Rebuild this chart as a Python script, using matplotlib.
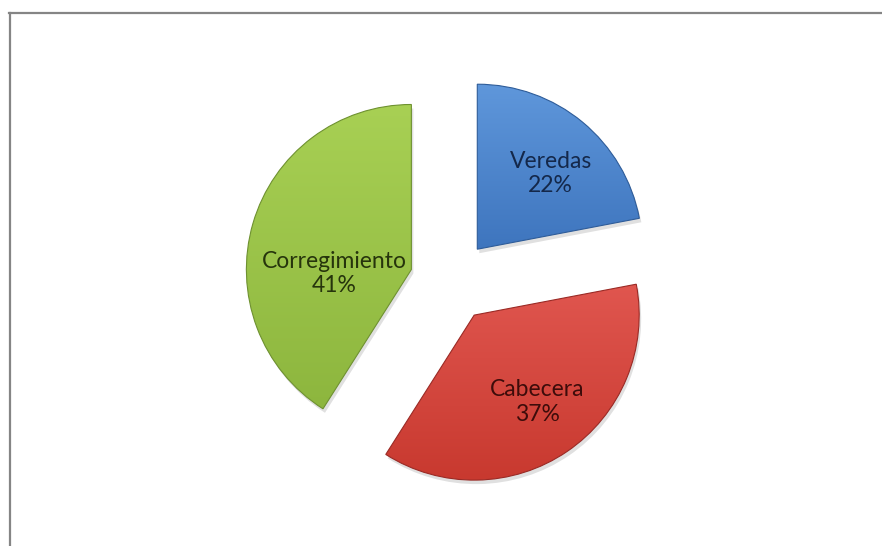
import numpy as np
import matplotlib.pyplot as plt
from matplotlib.colors import LinearSegmentedColormap
from matplotlib.lines import Line2D
from matplotlib.patches import Wedge

# ── Data ──────────────────────────────────────────────────────────────────────
labels = ["Veredas", "Cabecera", "Corregimiento"]
values = [22, 37, 41]

# slice styling (light top, base bottom, edge, text)
top_colors = ["#5F97DB", "#E0564F", "#A8D054"]
base_colors = ["#3E75BE", "#C8392F", "#8DB63E"]
edge_colors = ["#2E5C99", "#9A2A25", "#6E9130"]
text_colors = ["#14284A", "#3D0C0A", "#26340C"]
# label placement: fraction of radius and angle (deg) from each slice apex
label_dist = [0.64, 0.65, 0.47]
label_ang = [46, -54, 183]

W, H = 882, 546
fig = plt.figure(figsize=(W / 100, H / 100), dpi=100)
ax = fig.add_axes([0, 0, 1, 1])

center = (451, H - 281)
radius = 165
wedges, _ = ax.pie(values, startangle=90, counterclock=False,
                   explode=[0.25 * radius] * len(values), center=center,
                   radius=radius, colors=base_colors,
                   wedgeprops=dict(linewidth=0.8))

grad = np.linspace(1, 0, 256).reshape(-1, 1)
for w, lab, v, c0, c1, ec, tc, d, a in zip(wedges, labels, values, top_colors,
                                          base_colors, edge_colors, text_colors,
                                          label_dist, label_ang):
    # soft shadow
    sh = Wedge((w.center[0] + 2, w.center[1] - 4), w.r, w.theta1, w.theta2,
               color="#000000", alpha=0.12, lw=0, zorder=0.5)
    ax.add_patch(sh)

    bb = w.get_path().get_extents()
    cmap = LinearSegmentedColormap.from_list("g", [c1, c0])
    im = ax.imshow(grad, cmap=cmap, aspect="auto", origin="upper",
                   extent=(bb.x0, bb.x1, bb.y0, bb.y1), zorder=2,
                   interpolation="bilinear")
    im.set_clip_path(w)
    w.set_facecolor("none")
    w.set_edgecolor(ec)
    w.set_zorder(3)

    t = np.deg2rad(a)
    tx = w.center[0] + d * w.r * np.cos(t)
    ty = w.center[1] + d * w.r * np.sin(t)
    ax.text(tx, ty, f"{lab}\n{v}%", ha="center", va="center", fontsize=16.5,
            family="Lato", color=tc, linespacing=1.2, zorder=4)

ax.set_xlim(0, W)
ax.set_ylim(0, H)
ax.set_aspect("equal")
ax.axis("off")

# chart area border (top and left visible)
fig.add_artist(Line2D([9 / W, 1], [1 - 13 / H] * 2, color="#858585", lw=1.6))
fig.add_artist(Line2D([10 / W] * 2, [0, 1 - 13 / H], color="#858585", lw=1.6))

plt.savefig("out.png", dpi=100)
